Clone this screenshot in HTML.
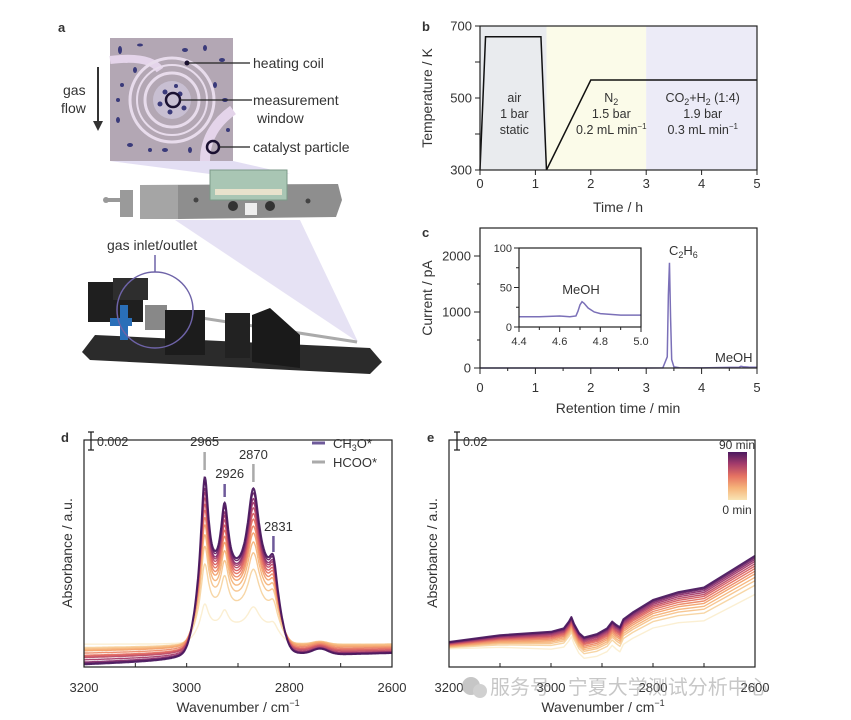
<!DOCTYPE html>
<html><head><meta charset="utf-8"><style>
html,body{margin:0;padding:0;background:#fff;}
svg{display:block;font-family:"Liberation Sans","Noto Sans CJK SC",sans-serif;}
text{fill:#333;}
</style></head><body>
<svg id="fig" width="851" height="720" viewBox="0 0 851 720" xmlns="http://www.w3.org/2000/svg">
<g>
<text x="58" y="32" font-size="13" font-weight="bold" fill="#222">a</text>
<polygon points="110,161 233,161 290,174 210,174" fill="#dcd6f0" opacity="0.8"/>
<polygon points="175,220 300,220 358,342" fill="#dcd6f0" opacity="0.7"/>
<g>
<rect x="110" y="38" width="123" height="123" fill="#b3a7b4"/>
<path d="M110,60 Q150,55 160,70" stroke="#e4d4ea" stroke-width="8" fill="none"/>
<path d="M233,110 Q205,130 205,161" stroke="#e4d4ea" stroke-width="10" fill="none"/>
<circle cx="172" cy="100" r="42" fill="none" stroke="#e8dcec" stroke-width="3"/>
<circle cx="172" cy="100" r="35" fill="none" stroke="#e8dcec" stroke-width="2"/>
<circle cx="172" cy="100" r="27" fill="none" stroke="#e8dcec" stroke-width="3"/>
<circle cx="172" cy="100" r="19" fill="#c8bfd2"/>
<g fill="#3a3a7a">
<circle cx="165" cy="92" r="2.5"/><circle cx="180" cy="94" r="2.5"/><circle cx="160" cy="104" r="2.5"/><circle cx="170" cy="112" r="2.5"/><circle cx="184" cy="108" r="2.5"/><circle cx="176" cy="86" r="2"/>
<ellipse cx="120" cy="50" rx="2" ry="4"/><ellipse cx="140" cy="45" rx="3" ry="1.5"/><ellipse cx="205" cy="48" rx="2" ry="3"/><ellipse cx="222" cy="60" rx="3" ry="2"/>
<ellipse cx="118" cy="120" rx="2" ry="3"/><ellipse cx="130" cy="145" rx="3" ry="2"/><ellipse cx="150" cy="150" rx="2" ry="2"/><ellipse cx="215" cy="85" rx="2" ry="3"/>
<ellipse cx="225" cy="100" rx="3" ry="2"/><ellipse cx="190" cy="150" rx="2" ry="3"/><ellipse cx="122" cy="85" rx="2" ry="2"/><ellipse cx="228" cy="130" rx="2" ry="2"/>
<ellipse cx="135" cy="70" rx="2" ry="3"/><ellipse cx="185" cy="50" rx="3" ry="2"/><ellipse cx="165" cy="150" rx="3" ry="2"/><ellipse cx="118" cy="100" rx="2" ry="2"/>
</g>
<circle cx="173" cy="100" r="7" fill="none" stroke="#1a1030" stroke-width="2.5"/>
<circle cx="213" cy="147" r="6" fill="none" stroke="#1a1030" stroke-width="2.5"/>
<circle cx="187" cy="63" r="2.5" fill="#1a1030"/>
</g>
<g stroke="#222" stroke-width="1.2">
<line x1="188" y1="63" x2="250" y2="63"/><line x1="180" y1="100" x2="252" y2="100"/><line x1="219" y1="147" x2="250" y2="147"/>
</g>
<g font-size="14" fill="#333">
<text x="253" y="68">heating coil</text>
<text x="253" y="105">measurement</text>
<text x="257" y="123">window</text>
<text x="253" y="152">catalyst particle</text>
<text x="63" y="95">gas</text>
<text x="61" y="113">flow</text>
<text x="107" y="250">gas inlet/outlet</text>
</g>
<line x1="98" y1="67" x2="98" y2="122" stroke="#333" stroke-width="2"/>
<polygon points="93,121 103,121 98,131" fill="#333"/>
<g>
<circle cx="106" cy="200" r="3" fill="#999"/><rect x="106" y="198" width="14" height="4" fill="#999"/>
<rect x="120" y="190" width="13" height="27" fill="#9a9a9a"/>
<polygon points="140,185 338,184 342,200 336,217 180,219 140,219" fill="#8e8e8e"/>
<rect x="140" y="185" width="38" height="34" fill="#a5a5a5"/>
<rect x="210" y="170" width="77" height="30" fill="#a9c6b4" stroke="#7c9a88"/>
<rect x="215" y="189" width="67" height="6" fill="#e8e2cc"/>
<circle cx="233" cy="206" r="5" fill="#333"/><circle cx="270" cy="206" r="5" fill="#333"/>
<rect x="245" y="203" width="12" height="12" fill="#eee"/>
<circle cx="196" cy="200" r="2.5" fill="#444"/><circle cx="308" cy="201" r="2.5" fill="#444"/>
</g>
<g>
<polygon points="82,352 95,335 370,348 382,362 370,374 90,360" fill="#2b2b2b"/>
<line x1="150" y1="310" x2="357" y2="342" stroke="#aaa" stroke-width="3"/>
<rect x="88" y="282" width="55" height="40" fill="#1f1f1f"/>
<rect x="113" y="278" width="35" height="22" fill="#2e2e2e"/>
<rect x="145" y="305" width="22" height="25" fill="#888"/>
<rect x="120" y="305" width="8" height="35" fill="#2a6fb8"/>
<rect x="110" y="318" width="22" height="8" fill="#2a6fb8"/>
<rect x="165" y="310" width="40" height="45" fill="#1c1c1c"/>
<rect x="225" y="313" width="25" height="45" fill="#222"/>
<polygon points="252,315 270,308 300,335 300,368 252,362" fill="#1a1a1a"/>
<circle cx="155" cy="310" r="38" fill="none" stroke="#6e63a8" stroke-width="1.5"/>
<line x1="155" y1="255" x2="155" y2="272" stroke="#6e63a8" stroke-width="1.5"/>
</g>
</g>
<g id="charts"></g>
<g opacity="0.55">
<circle cx="471" cy="686" r="9" fill="#999"/><circle cx="480" cy="691" r="7" fill="#aaa"/>
<text x="490" y="694" font-size="20" fill="#999" style="fill:#9a9a9a">服务号 · 宁夏大学测试分析中心</text>
</g>
</svg>
<script>
// ---------- DATA ----------
const bTime = [0, 0.1, 1.1, 1.2, 2.0, 5.0];
const bTemp = [300, 670, 670, 300, 550, 550];
const bXTicks = [0,1,2,3,4,5];
const bYTicks = [300,500,700];
const cTime = [0,0.5,1,1.5,2,2.5,3,3.3,3.38,3.40,3.42,3.44,3.46,3.50,3.6,4,4.5,4.68,4.71,4.75,4.85,5];
const cCurrent = [0,0,0,0,0,0,0,2,200,1300,1880,900,150,20,5,3,12,14,30,22,15,14];
const cXTicks = [0,1,2,3,4,5];
const cYTicks = [0,1000,2000];
const insTime = [4.4,4.5,4.6,4.65,4.68,4.69,4.7,4.71,4.72,4.74,4.77,4.8,4.9,5.0];
const insCurrent = [13,13,14,13,14,20,28,32,30,24,19,17,15,15];
const insXTicks = [4.4,4.6,4.8,5.0];
const insYTicks = [0,50,100];
const dScale = [0.22,0.45,0.55,0.62,0.68,0.73,0.78,0.82,0.86,0.90,0.93,0.97,1.0];
const dBaseLeft = [0.10,0.085,0.08,0.075,0.07,0.06,0.05,0.045,0.04,0.03,0.02,0.015,0.01];
const dBaseRight = [0.10,0.10,0.10,0.095,0.09,0.085,0.08,0.075,0.07,0.065,0.065,0.06,0.06];
const dBandAmp = 0.33;
const dPeakPos = [2965,2926,2870,2831];
const dPeakAmp = [0.51,0.31,0.40,0.15];
const dPeakWidth = [9,9,14,9];
const dXTicks = [3200,3000,2800,2600];
const eWn = [3200,3100,3000,2975,2965,2960,2955,2945,2935,2910,2890,2880,2872,2865,2858,2840,2800,2750,2700,2650,2600];
const eDark = [0.11,0.14,0.155,0.17,0.20,0.22,0.19,0.15,0.13,0.145,0.17,0.20,0.185,0.175,0.21,0.24,0.295,0.33,0.35,0.42,0.49];
const eDropLeft = [0.03,0.025,0.022,0.02,0.018,0.015,0.012,0.01,0.008,0.006,0.004,0.002,0];
const eDropRight = [0.17,0.13,0.11,0.095,0.08,0.068,0.056,0.045,0.035,0.025,0.016,0.008,0];
const eXTicks = [3200,3000,2800,2600];

const NS = "http://www.w3.org/2000/svg";
const root = document.getElementById('charts');
function el(tag, attrs, parent, txt){const e=document.createElementNS(NS,tag);for(const k in attrs)e.setAttribute(k,attrs[k]);if(txt!==undefined)e.textContent=txt;(parent||root).appendChild(e);return e;}
function lin(d0,d1,r0,r1){return v=>r0+(v-d0)*(r1-r0)/(d1-d0);}
const stops=[[0,[248,228,180]],[0.3,[246,170,110]],[0.55,[225,100,95]],[0.8,[150,50,110]],[1,[75,25,95]]];
function cmap(t){for(let i=1;i<stops.length;i++){if(t<=stops[i][0]){const a=stops[i-1],b=stops[i];const f=(t-a[0])/(b[0]-a[0]);const c=a[1].map((v,j)=>Math.round(v+(b[1][j]-v)*f));return `rgb(${c[0]},${c[1]},${c[2]})`;}}return 'rgb(75,25,95)';}

// ---------- PANEL B ----------
{
const g=el('g',{});


const x=lin(0,5,480,757), y=lin(300,700,170,26);
el('text',{x:422,y:31,'font-size':13,'font-weight':'bold'},g,'b');
const r1=el('rect',{x:x(0),y:26,width:x(1.2)-x(0),height:144,fill:'#e9ebee'},g);


const r2=el('rect',{x:x(1.2),y:26,width:x(3)-x(1.2),height:144,fill:'#fbfbe9'},g);


const r3=el('rect',{x:x(3),y:26,width:x(5)-x(3),height:144,fill:'#ecebf7'},g);


const p=el('path',{d:bTime.map((t,i)=>(i?'L':'M')+x(t)+','+y(bTemp[i])).join(''),fill:'none',stroke:'#111','stroke-width':1.5},g);


el('rect',{x:480,y:26,width:277,height:144,fill:'none',stroke:'#222','stroke-width':1.2},g);
bXTicks.forEach(t=>{el('line',{x1:x(t),x2:x(t),y1:170,y2:175,stroke:'#222'},g);const tl=el('text',{x:x(t),y:188,'font-size':13,'text-anchor':'middle'},g,String(t));});
[300,400,500,600,700].forEach(v=>el('line',{x1:475,x2:480,y1:y(v),y2:y(v),stroke:'#222'},g));
bYTicks.forEach(v=>{const tl=el('text',{x:472,y:y(v)+4.5,'font-size':13,'text-anchor':'end'},g,String(v));});
const xt=el('text',{x:618,y:212,'font-size':14,'text-anchor':'middle'},g,'Time / h');

const yt=el('text',{x:0,y:0,'font-size':14,'text-anchor':'middle',transform:'translate(432,98) rotate(-90)'},g,'Temperature / K');

const lab=(cx,lines)=>lines.forEach((s,i)=>{const t=el('text',{x:cx,y:102+i*16,'font-size':12.5,'text-anchor':'middle'},g);t.innerHTML=s;});
lab(x(0.62),['air','1 bar','static']);
lab(x(2.37),['N<tspan font-size="9" dy="3">2</tspan>','1.5 bar','0.2 mL min<tspan font-size="8" dy="-5">−1</tspan>']);
lab(x(4.02),['CO<tspan font-size="9" dy="3">2</tspan><tspan dy="-3">+H</tspan><tspan font-size="9" dy="3">2</tspan><tspan dy="-3"> (1:4)</tspan>','1.9 bar','0.3 mL min<tspan font-size="8" dy="-5">−1</tspan>']);
}
// ---------- PANEL C ----------
{
const g=el('g',{});


const x=lin(0,5,480,757), y=lin(0,2000,368,256);
el('text',{x:422,y:237,'font-size':13,'font-weight':'bold'},g,'c');
const p=el('path',{d:cTime.map((t,i)=>(i?'L':'M')+x(t)+','+y(cCurrent[i])).join(''),fill:'none',stroke:'#7b70b8','stroke-width':1.5},g);

el('rect',{x:480,y:228,width:277,height:140,fill:'none',stroke:'#222','stroke-width':1.2},g);
[0,0.5,1,1.5,2,2.5,3,3.5,4,4.5,5].forEach(t=>el('line',{x1:x(t),x2:x(t),y1:368,y2:t%1?371:374,stroke:'#222'},g));
cXTicks.forEach(t=>{const tl=el('text',{x:x(t),y:392,'font-size':13,'text-anchor':'middle'},g,String(t));});
[0,500,1000,1500,2000].forEach(v=>el('line',{x1:v%1000?477:474,x2:480,y1:y(v),y2:y(v),stroke:'#222'},g));
cYTicks.forEach(v=>{const tl=el('text',{x:471,y:y(v)+4.5,'font-size':13,'text-anchor':'end'},g,String(v));});
const xt=el('text',{x:618,y:413,'font-size':14,'text-anchor':'middle'},g,'Retention time / min');

const yt=el('text',{x:0,y:0,'font-size':14,'text-anchor':'middle',transform:'translate(432,298) rotate(-90)'},g,'Current / pA');

const c2=el('text',{x:669,y:255,'font-size':13},g);c2.innerHTML='C<tspan font-size="9" dy="3">2</tspan><tspan dy="-3">H</tspan><tspan font-size="9" dy="3">6</tspan>';

const m=el('text',{x:715,y:362,'font-size':13},g,'MeOH');

const ix=lin(4.4,5.0,519,641), iy=lin(0,100,327,248);
const ip=el('path',{d:insTime.map((t,i)=>(i?'L':'M')+ix(t)+','+iy(insCurrent[i])).join(''),fill:'none',stroke:'#7b70b8','stroke-width':1.5},g);

const fr=el('rect',{x:519,y:248,width:122,height:79,fill:'none',stroke:'#222','stroke-width':1.2},g);

[4.4,4.5,4.6,4.7,4.8,4.9,5.0].forEach((t,i)=>el('line',{x1:ix(t),x2:ix(t),y1:327,y2:i%2?330:332,stroke:'#222'},g));
insXTicks.forEach(t=>{const tl=el('text',{x:ix(t),y:345,'font-size':11,'text-anchor':'middle'},g,t.toFixed(1));});
[0,25,50,75,100].forEach(v=>el('line',{x1:v%50?516:514,x2:519,y1:iy(v),y2:iy(v),stroke:'#222'},g));
insYTicks.forEach(v=>{const tl=el('text',{x:512,y:iy(v)+4,'font-size':11,'text-anchor':'end'},g,String(v));});
const im=el('text',{x:581,y:294,'font-size':13,'text-anchor':'middle'},g,'MeOH');

}
// ---------- PANEL D ----------
{
const g=el('g',{});


const L=84,R=392,T=440,B=667;
const x=lin(3200,2600,L,R), y=lin(0,1,B,T);
el('text',{x:61,y:442,'font-size':13,'font-weight':'bold'},g,'d');
const n=dScale.length;
for(let i=0;i<n;i++){
  let d='';
  for(let w=3200;w>=2600;w-=1){
    let v=dBaseLeft[i]+(dBaseRight[i]-dBaseLeft[i])*(3200-w)/600;
    let s=dBandAmp*Math.exp(-Math.pow((w-2900)/85,6));
    for(let k=0;k<dPeakPos.length;k++) s+=dPeakAmp[k]/(1+Math.pow((w-dPeakPos[k])/dPeakWidth[k],2));
    s+=0.025*Math.exp(-Math.pow(w-2740,2)/(2*15*15));
    v+=dScale[i]*s;
    d+=(d?'L':'M')+x(w).toFixed(1)+','+y(v).toFixed(1);
  }
  const p=el('path',{d:d,fill:'none',stroke:cmap(i/(n-1)),'stroke-width':i===n-1?2:1.4,opacity:i===0?0.6:0.95},g);
  
  
}
el('rect',{x:L,y:T,width:R-L,height:B-T,fill:'none',stroke:'#222','stroke-width':1.2},g);
for(let w=3200;w>=2600;w-=100) el('line',{x1:x(w),x2:x(w),y1:B,y2:B-4,stroke:'#222'},g);
dXTicks.forEach(w=>{const t=el('text',{x:x(w),y:692,'font-size':13,'text-anchor':'middle'},g,String(w));});
const xt=el('text',{x:238,y:712,'font-size':14,'text-anchor':'middle'},g);xt.innerHTML='Wavenumber / cm<tspan font-size="9" dy="-6">−1</tspan>';

const yt=el('text',{x:0,y:0,'font-size':14,'text-anchor':'middle',transform:'translate(72,553) rotate(-90)'},g,'Absorbance / a.u.');

el('path',{d:'M91,432 v18 M88,432 h6 M88,450 h6',stroke:'#222','stroke-width':1.3,fill:'none'},g);
el('text',{x:97,y:446,'font-size':12.5},g,'0.002');
const pk=[[2965,'2965',446,[452,470],'#aaa'],[2926,'2926',478,[484,497],'#6e5a9a'],[2870,'2870',459,[464,482],'#aaa'],[2831,'2831',531,[536,552],'#6e5a9a']];
pk.forEach(a=>{const t=el('text',{x:x(a[0])+(a[0]===2926||a[0]===2831?5:0),y:a[2],'font-size':13,'text-anchor':'middle'},g,a[1]);
 el('line',{x1:x(a[0]),x2:x(a[0]),y1:a[3][0],y2:a[3][1],stroke:a[4],'stroke-width':2.5},g);});
el('line',{x1:312,x2:325,y1:443,y2:443,stroke:'#6e5a9a','stroke-width':3},g);
el('line',{x1:312,x2:325,y1:462,y2:462,stroke:'#aaa','stroke-width':3},g);
const l1=el('text',{x:333,y:448,'font-size':13},g);l1.innerHTML='CH<tspan font-size="9" dy="3">3</tspan><tspan dy="-3">O*</tspan>';

const l2=el('text',{x:333,y:467,'font-size':13},g,'HCOO*');

}
// ---------- PANEL E ----------
{
const g=el('g',{});


const L=449,R=755,T=440,B=667;
const x=lin(3200,2600,L,R), y=lin(0,1,B,T);
el('text',{x:427,y:442,'font-size':13,'font-weight':'bold'},g,'e');
const n=eDropLeft.length;
for(let i=0;i<n;i++){
  const d=eWn.map((w,j)=>{const f=(3200-w)/600;const v=eDark[j]-(eDropLeft[i]+(eDropRight[i]-eDropLeft[i])*f);return (j?'L':'M')+x(w).toFixed(1)+','+y(v).toFixed(1);}).join('');
  const p=el('path',{d:d,fill:'none',stroke:cmap(i/(n-1)),'stroke-width':i===n-1?2:1.4,opacity:i===0?0.6:0.95,'stroke-linejoin':'round'},g);
  
  
}
el('rect',{x:L,y:T,width:R-L,height:B-T,fill:'none',stroke:'#222','stroke-width':1.2},g);
for(let w=3200;w>=2600;w-=100) el('line',{x1:x(w),x2:x(w),y1:B,y2:B-4,stroke:'#222'},g);
eXTicks.forEach(w=>{const t=el('text',{x:x(w),y:692,'font-size':13,'text-anchor':'middle'},g,String(w));});
const xt=el('text',{x:603,y:712,'font-size':14,'text-anchor':'middle'},g);xt.innerHTML='Wavenumber / cm<tspan font-size="9" dy="-6">−1</tspan>';

const yt=el('text',{x:0,y:0,'font-size':14,'text-anchor':'middle',transform:'translate(437,553) rotate(-90)'},g,'Absorbance / a.u.');

el('path',{d:'M457,432 v18 M454,432 h6 M454,450 h6',stroke:'#222','stroke-width':1.3,fill:'none'},g);
el('text',{x:463,y:446,'font-size':12.5},g,'0.02');
const defs=el('defs',{},g);
const lg=el('linearGradient',{id:'cb',x1:0,y1:1,x2:0,y2:0},defs);
[0,0.25,0.5,0.75,1].forEach(t=>el('stop',{offset:t,'stop-color':cmap(t)},lg));
const cb=el('rect',{x:728,y:452,width:19,height:48,fill:'url(#cb)'},g);

el('text',{x:737,y:449,'font-size':12,'text-anchor':'middle'},g,'90 min');
el('text',{x:737,y:514,'font-size':12,'text-anchor':'middle'},g,'0 min');
}
</script>
</body></html>
